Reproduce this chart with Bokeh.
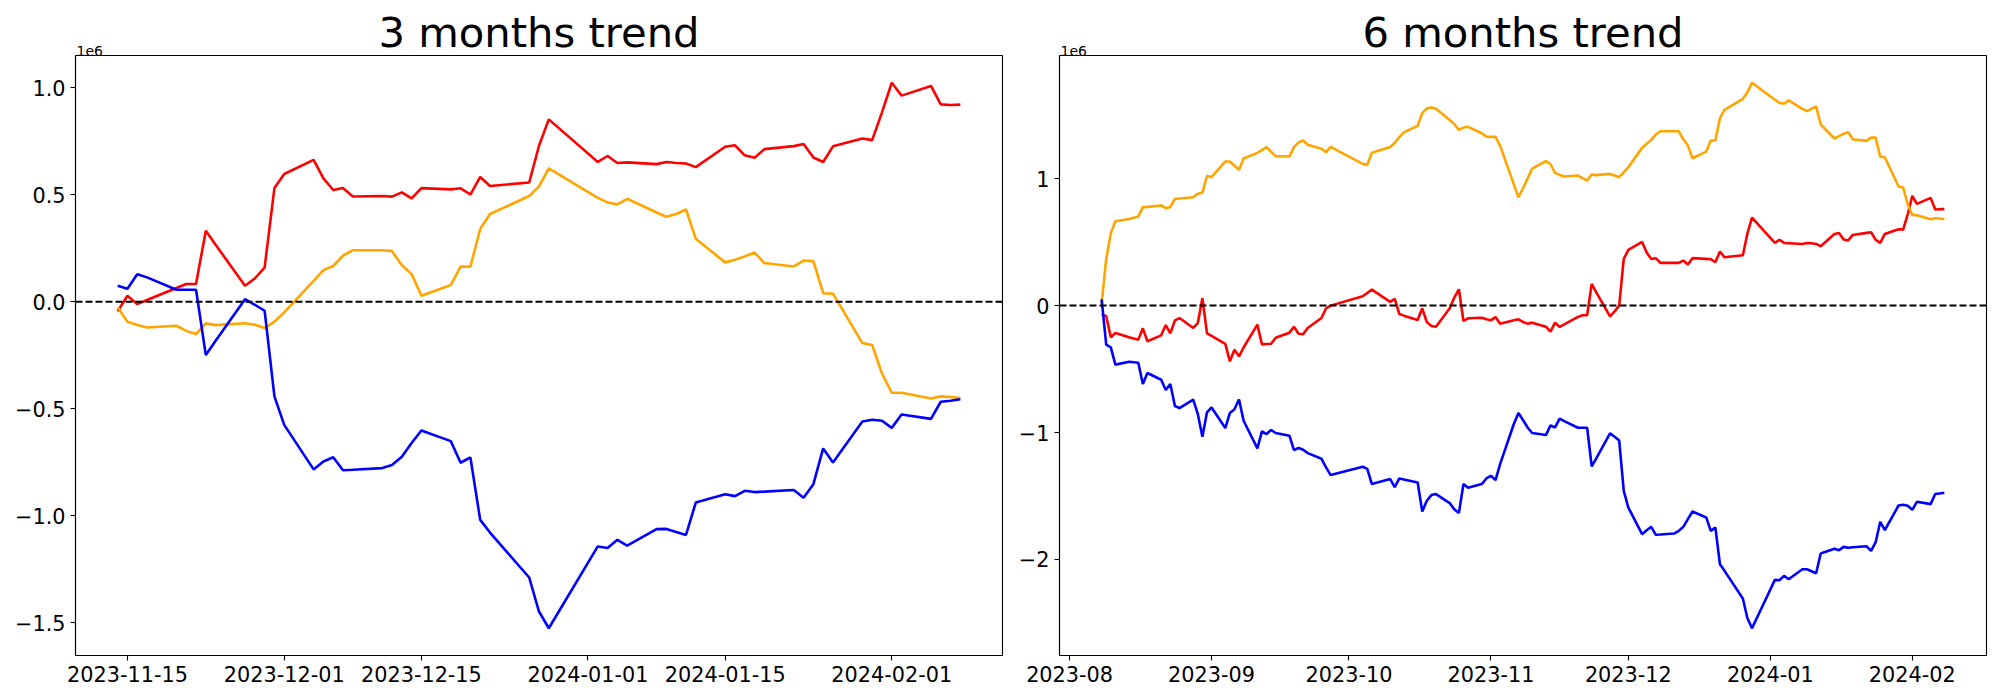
import pandas as pd
from bokeh.plotting import figure
from bokeh.layouts import row
from bokeh.models import Range1d, FixedTicker, Span, Title, CustomJSTickFormatter
from bokeh.embed import file_html
from bokeh.resources import INLINE

# ---------------- data (values in units of 1e6) ----------------
KRX_HOLIDAYS = ["2023-08-15", "2023-09-28", "2023-09-29", "2023-10-02", "2023-10-03",
                "2023-10-09", "2023-12-25", "2023-12-29", "2024-01-01"]

def trading_days(start, end):
    d = pd.bdate_range(start, end)
    return d[~d.isin(pd.to_datetime(KRX_HOLIDAYS))]

dates_3m = trading_days("2023-11-14", "2024-02-08")
dates_6m = trading_days("2023-08-08", "2024-02-08")

red_3m = [-0.045, 0.028, -0.011, 0.008, 0.064, 0.083, 0.083, 0.332, 0.266, 0.075, 0.109, 0.160, 0.531,
          0.597, 0.663, 0.576, 0.522, 0.531, 0.492, 0.494, 0.491, 0.511, 0.483, 0.531, 0.525, 0.530, 0.501,
          0.583, 0.541, 0.557, 0.729, 0.852,
          0.653, 0.681, 0.648, 0.651, 0.643, 0.653, 0.648, 0.646, 0.629, 0.724, 0.731, 0.684, 0.673, 0.713,
          0.727, 0.737, 0.674, 0.653, 0.726, 0.763, 0.755, 0.885,
          1.023, 0.963, 1.008, 0.922, 0.919, 0.921]
orange_3m = [-0.026, -0.093, -0.109, -0.120, -0.112, -0.136, -0.151, -0.101, -0.109, -0.100, -0.107, -0.123, -0.093,
             -0.050, 0.098, 0.148, 0.167, 0.215, 0.241, 0.241, 0.237, 0.171, 0.129, 0.028, 0.078, 0.164, 0.164,
             0.340, 0.410, 0.494, 0.539, 0.623,
             0.485, 0.464, 0.455, 0.481, 0.417, 0.397, 0.410, 0.431, 0.294, 0.184, 0.196, 0.212, 0.230, 0.181,
             0.165, 0.192, 0.190, 0.040, 0.038, -0.193, -0.202, -0.335,
             -0.425, -0.425, -0.452, -0.442, -0.445, -0.450]
blue_3m = [0.075, 0.061, 0.129, 0.114, 0.056, 0.056, 0.056, -0.249, -0.182, 0.012, -0.014, -0.042, -0.442,
           -0.575, -0.783, -0.746, -0.726, -0.787, -0.785, -0.777, -0.763, -0.724, -0.660, -0.601, -0.651,
           -0.752, -0.727, -1.019, -1.078, -1.288, -1.447, -1.525,
           -1.143, -1.150, -1.112, -1.139, -1.062, -1.061, -1.075, -1.089, -0.938, -0.899, -0.908, -0.883,
           -0.889, -0.887, -0.879, -0.916, -0.852, -0.685, -0.751, -0.559, -0.551, -0.556,
           -0.589, -0.527, -0.547, -0.467, -0.462, -0.455]

red_6m = [-0.071, -0.081, -0.250, -0.216, -0.250, -0.268, -0.179, -0.281, -0.234, -0.153, -0.218, -0.116,
          -0.098, -0.176, -0.137, 0.058, -0.218,
          -0.239, -0.302, -0.439, -0.347, -0.400, -0.330, -0.150, -0.305, -0.302, -0.300, -0.253, -0.213,
          -0.166, -0.221, -0.226, -0.176, -0.097, -0.021, 0.000,
          0.074, 0.100, 0.126, 0.029, 0.053, -0.066, -0.079, -0.113, -0.021, -0.129, -0.160, -0.166, -0.021,
          0.063, 0.129, -0.121, -0.100, -0.095, -0.108,
          -0.116, -0.089, -0.142, -0.116, -0.108, -0.129, -0.142, -0.134, -0.166, -0.205, -0.134, -0.168,
          -0.147, -0.089, -0.076, -0.076, 0.171, 0.105, -0.084, -0.045, 0.000, 0.368,
          0.439, 0.502, 0.418, 0.368, 0.374, 0.337, 0.337, 0.337, 0.355, 0.324, 0.374, 0.368, 0.366, 0.342,
          0.426, 0.381, 0.397, 0.569, 0.694,
          0.494, 0.518, 0.494, 0.492, 0.486, 0.494, 0.492, 0.486, 0.468, 0.565, 0.573, 0.521, 0.513, 0.557,
          0.573, 0.578, 0.518, 0.494, 0.565, 0.602, 0.599, 0.720,
          0.865, 0.802, 0.849, 0.757, 0.760, 0.760]
orange_6m = [0.013, 0.368, 0.570, 0.665, 0.683, 0.702, 0.776, 0.778, 0.789, 0.768, 0.778, 0.841, 0.844,
             0.854, 0.881, 0.889, 1.023,
             1.012, 1.136, 1.136, 1.102, 1.070, 1.159, 1.204, 1.225, 1.249, 1.212, 1.178, 1.175, 1.249,
             1.286, 1.301, 1.267, 1.236, 1.209, 1.251,
             1.117, 1.109, 1.204, 1.249, 1.283, 1.328, 1.365, 1.417, 1.517, 1.554, 1.562, 1.552, 1.462,
             1.430, 1.385, 1.403, 1.409, 1.358, 1.332,
             1.330, 1.330, 1.261, 0.955, 0.854, 0.925, 1.001, 1.080, 1.138, 1.114, 1.046, 1.030, 1.017,
             1.025, 1.004, 0.986, 1.033, 1.028, 1.038, 1.025, 1.012, 1.051,
             1.091, 1.243, 1.275, 1.306, 1.348, 1.374, 1.374, 1.374, 1.311, 1.261, 1.161, 1.214, 1.301,
             1.301, 1.477, 1.543, 1.630, 1.682, 1.756,
             1.622, 1.598, 1.591, 1.617, 1.551, 1.533, 1.551, 1.570, 1.427, 1.317, 1.335, 1.354, 1.367,
             1.311, 1.298, 1.324, 1.324, 1.174, 1.169, 0.939, 0.931, 0.799,
             0.715, 0.712, 0.681, 0.689, 0.686, 0.681]
blue_6m = [0.050, -0.308, -0.329, -0.465, -0.442, -0.450, -0.618, -0.531, -0.584, -0.665, -0.618, -0.791,
           -0.807, -0.741, -0.854, -1.033, -0.841,
           -0.802, -0.965, -0.846, -0.817, -0.739, -0.907, -1.125, -0.991, -1.012, -0.980, -1.004, -1.025,
           -1.138, -1.122, -1.136, -1.162, -1.207, -1.275, -1.335,
           -1.270, -1.286, -1.406, -1.367, -1.430, -1.362, -1.370, -1.393, -1.622, -1.538, -1.493, -1.485,
           -1.556, -1.604, -1.635, -1.406, -1.435, -1.406, -1.362,
           -1.341, -1.375, -1.249, -0.933, -0.846, -0.901, -0.960, -1.004, -1.020, -0.944, -0.960, -0.891,
           -0.910, -0.962, -0.962, -0.962, -1.267, -1.204, -1.007, -1.033, -1.062, -1.459,
           -1.591, -1.801, -1.770, -1.743, -1.806, -1.804, -1.796, -1.775, -1.743, -1.682, -1.622, -1.669,
           -1.775, -1.748, -2.038, -2.090, -2.308, -2.464, -2.542,
           -2.161, -2.164, -2.129, -2.156, -2.077, -2.077, -2.093, -2.109, -1.953, -1.916, -1.927, -1.901,
           -1.908, -1.904, -1.896, -1.932, -1.864, -1.703, -1.769, -1.575, -1.569, -1.577,
           -1.609, -1.546, -1.564, -1.485, -1.480, -1.475]

xticks_3m = ["2023-11-15", "2023-12-01", "2023-12-15", "2024-01-01", "2024-01-15", "2024-02-01"]
xticks_6m = ["2023-08-01", "2023-09-01", "2023-10-01", "2023-11-01", "2023-12-01", "2024-01-01", "2024-02-01"]
yticks_3m = [-1.5, -1.0, -0.5, 0.0, 0.5, 1.0]
yticks_6m = [-2, -1, 0, 1]

assert len(red_3m) == len(orange_3m) == len(blue_3m) == len(dates_3m)
assert len(red_6m) == len(orange_6m) == len(blue_6m) == len(dates_6m)

# ---------------- layout ----------------
FONT = "DejaVu Sans"
H = 695
FH = 600
FW = 927
TOP = 55


def ms(s):
    return pd.Timestamp(s).value // 10**6


def make_panel(title, dates, series, xticks, yticks, width, left, date_len, ydigits):
    xs = [ms(d) for d in dates]
    span = xs[-1] - xs[0]
    allv = [v for s, _ in series for v in s]
    lo, hi = min(allv), max(allv)
    ysp = hi - lo
    x0, x1 = xs[0] - 0.05 * span, xs[-1] + 0.05 * span
    y0, y1 = lo - 0.05 * ysp, hi + 0.05 * ysp
    p = figure(width=width, height=H, x_axis_type="datetime",
               x_range=Range1d(x0, x1), y_range=Range1d(y0, y1),
               output_backend="svg", toolbar_location=None,
               min_border_left=left, min_border_right=width - left - FW,
               min_border_top=TOP, min_border_bottom=H - TOP - FH)
    p.grid.visible = False
    p.outline_line_color = "black"
    p.outline_line_width = 1.1
    p.background_fill_color = "white"
    p.border_fill_color = "white"

    # small exponent marker just above the frame (nearest panel)
    p.add_layout(Title(text="1e6", align="left", offset=1, standoff=0,
                       text_font=FONT, text_font_size="14px", text_font_style="normal",
                       text_color="black"), "above")

    p.title.text = title
    p.title.align = "center"
    p.title.text_font = FONT
    p.title.text_font_size = "41.7px"
    p.title.text_font_style = "normal"
    p.title.text_color = "black"
    try:
        p.title.standoff = -27
    except Exception:
        p.title.standoff = 0

    p.add_layout(Span(location=0, dimension="width", line_color="black",
                      line_dash="7 3", line_width=2.0))
    for vals, col in series:
        p.line(xs, vals, line_color=col, line_width=2.6)

    p.xaxis.ticker = FixedTicker(ticks=[ms(t) for t in xticks])
    p.xaxis.formatter = CustomJSTickFormatter(
        code=f"return new Date(tick).toISOString().slice(0, {date_len});")
    p.yaxis.ticker = FixedTicker(ticks=yticks)
    p.yaxis.formatter = CustomJSTickFormatter(
        code=f"return tick.toFixed({ydigits}).replace('-', '\\u2212');")
    for ax in (p.xaxis[0], p.yaxis[0]):
        ax.axis_line_color = "black"
        ax.axis_line_width = 1.1
        ax.major_tick_line_color = "black"
        ax.major_tick_line_width = 1.1
        ax.major_tick_in = 0
        ax.major_tick_out = 5
        ax.minor_tick_in = 0
        ax.minor_tick_out = 0
        ax.major_label_standoff = 5
        ax.major_label_text_font = FONT
        ax.major_label_text_font_size = "20.8px"
        ax.major_label_text_color = "black"
    return p


p1 = make_panel("3 months trend", dates_3m,
                [(red_3m, "red"), (orange_3m, "orange"), (blue_3m, "blue")],
                xticks_3m, yticks_3m, 1008, 75, 10, 1)
p2 = make_panel("6 months trend", dates_6m,
                [(red_6m, "red"), (orange_6m, "orange"), (blue_6m, "blue")],
                xticks_6m, yticks_6m, 984, 51, 7, 0)

layout = row(p1, p2)
open("out.html", "w").write(file_html(layout, INLINE))
